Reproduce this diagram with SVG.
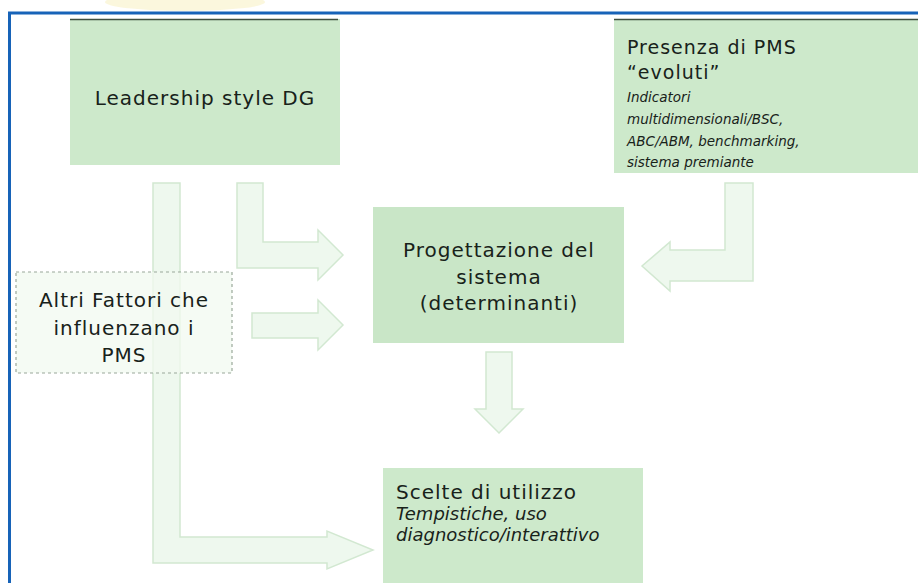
<svg xmlns="http://www.w3.org/2000/svg" width="918" height="583" viewBox="0 0 918 583">
<style>
.box{fill:#cde9cb}
.box2{fill:#c9e6c7}
.topline{stroke:#3f4f3f;stroke-width:1.5}
.arr{fill:#eef8ee;stroke:#d2e8d1;stroke-width:1.5;stroke-linejoin:miter}
.t{font-family:"DejaVu Sans","Verdana",sans-serif;font-size:20px;letter-spacing:1px;fill:#18221a}
.it{font-family:"DejaVu Sans","Verdana",sans-serif;font-style:italic;fill:#18221a}
</style>
<rect x="0" y="0" width="918" height="583" fill="#ffffff"/>
<ellipse cx="185" cy="2" rx="80" ry="9" fill="#faf3cf" opacity="0.7"/>
<line x1="8" y1="13" x2="918" y2="13" stroke="#1763b8" stroke-width="3"/>
<line x1="9.5" y1="12" x2="9.5" y2="583" stroke="#1763b8" stroke-width="3"/>

<g id="connectors">
<polygon class="arr" points="153,183 153,563 327,563 327,569 373,550 327,531 327,537 180,537 180,183"/>
<polygon class="arr" points="237,183 237,268 318,268 318,280 343,255 318,230 318,242 263,242 263,183"/>
<polygon class="arr" points="252,313 318,313 318,300 343,325 318,350 318,338 252,338"/>
<polygon class="arr" points="725,183 725,250 670,250 670,242 642,266 670,291 670,281 753,281 753,183"/>
<polygon class="arr" points="486,352 512,352 512,409 523,409 499,433 475,409 486,409"/>
</g>

<g id="leadership">
<rect class="box" x="70" y="19" width="270" height="146"/>
<line class="topline" x1="70" y1="19.5" x2="338" y2="19.5"/>
<text class="t" x="205" y="105" text-anchor="middle">Leadership style DG</text>
</g>

<g id="presenza">
<rect class="box" x="614" y="19" width="304" height="154"/>
<line class="topline" x1="614" y1="19.5" x2="918" y2="19.5"/>
<text class="t" x="627" y="54" style="font-size:19px">Presenza di PMS</text>
<text class="t" x="627" y="79" style="font-size:19px">“evoluti”</text>
<text class="it" x="627" y="102" font-size="13.5">Indicatori</text>
<text class="it" x="627" y="124" font-size="13.5">multidimensionali/BSC,</text>
<text class="it" x="627" y="146" font-size="13.5">ABC/ABM, benchmarking,</text>
<text class="it" x="627" y="167" font-size="13.5">sistema premiante</text>
</g>

<g id="altri">
<rect x="16" y="272" width="216" height="101" fill="#f1f9f0" fill-opacity="0.75" stroke="#9aa89a" stroke-width="1.2" stroke-dasharray="3,3"/>
<text class="t" x="124" y="307" text-anchor="middle">Altri Fattori che</text>
<text class="t" x="124" y="335" text-anchor="middle">influenzano i</text>
<text class="t" x="124" y="362" text-anchor="middle">PMS</text>
</g>

<g id="progettazione">
<rect class="box2" x="373" y="207" width="251" height="136"/>
<text class="t" x="499" y="257" text-anchor="middle">Progettazione del</text>
<text class="t" x="499" y="284" text-anchor="middle">sistema</text>
<text class="t" x="499" y="310" text-anchor="middle">(determinanti)</text>
</g>

<g id="scelte">
<rect class="box" x="383" y="468" width="260" height="115"/>
<text class="t" x="396" y="499">Scelte di utilizzo</text>
<text class="it" x="396" y="520" font-size="18">Tempistiche, uso</text>
<text class="it" x="396" y="541" font-size="18">diagnostico/interattivo</text>
</g>
</svg>
